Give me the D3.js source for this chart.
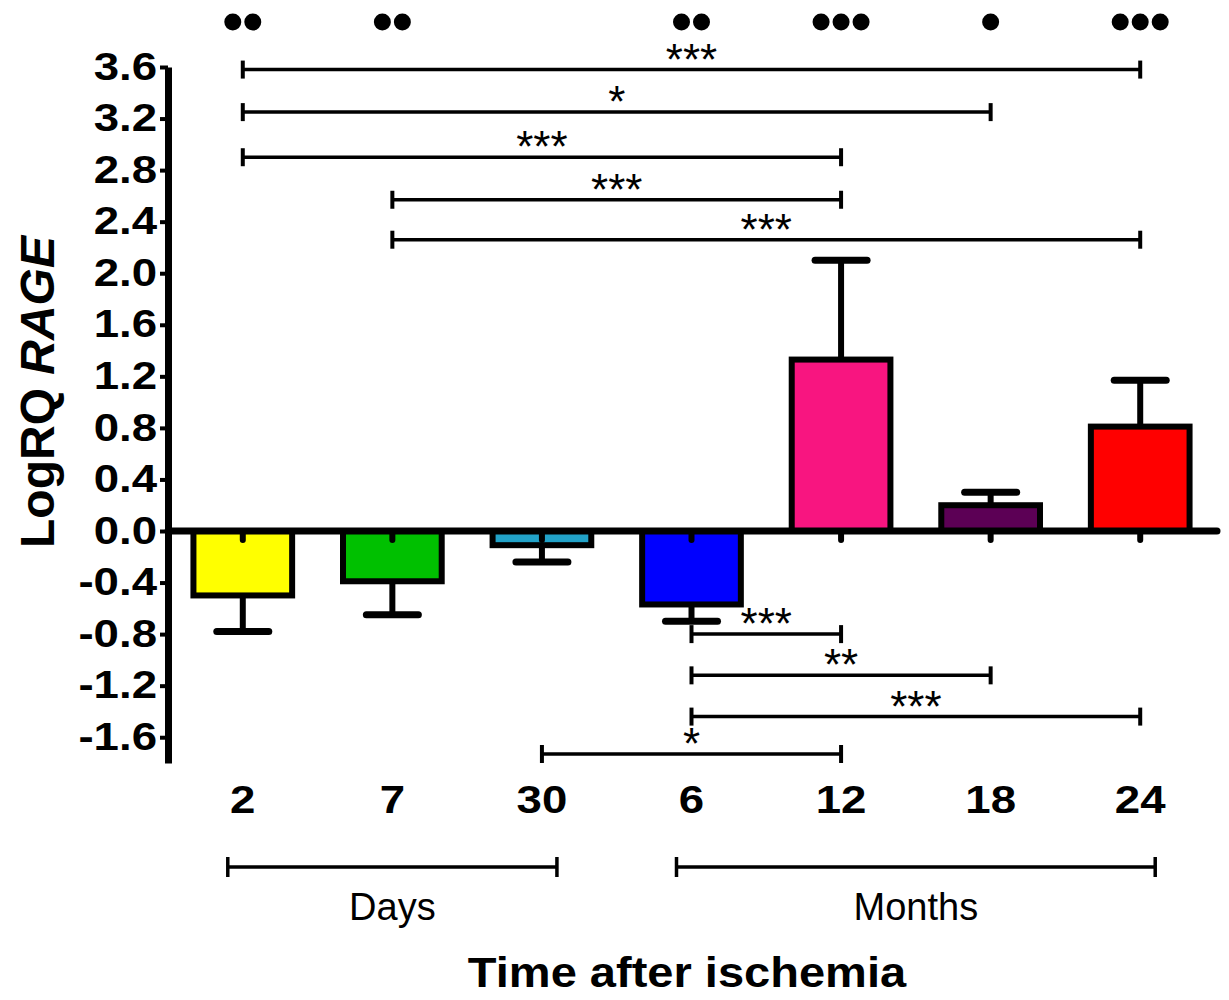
<!DOCTYPE html>
<html>
<head>
<meta charset="utf-8">
<script src="https://cdn.jsdelivr.net/npm/d3@7"></script>
<style>
  body { margin: 0; background: #fff; }
  text { font-family: "Liberation Sans", Arial, sans-serif; fill: #000; }
</style>
</head>
<body>
<div id="chart"></div>
<script>
// data
var categories = ["2", "7", "30", "6", "12", "18", "24"];
var means      = [-0.50, -0.39, -0.11, -0.57, 1.33, 0.20, 0.81];
var sems       = [0.28, 0.26, 0.13, 0.13, 0.77, 0.10, 0.36];
var colors     = ["#ffff00", "#00c000", "#22a2c8", "#0000ff", "#f81580", "#5c0055", "#ff0000"];
var dotCounts  = [2, 2, 0, 2, 3, 1, 3];
var yTicks     = [-1.6, -1.2, -0.8, -0.4, 0.0, 0.4, 0.8, 1.2, 1.6, 2.0, 2.4, 2.8, 3.2, 3.6];

// significance brackets: from category, to category, level (y units), label
var brackets = [
  {from: "2",  to: "24", level: 3.58,  label: "***"},
  {from: "2",  to: "18", level: 3.25,  label: "*"},
  {from: "2",  to: "12", level: 2.90,  label: "***"},
  {from: "7",  to: "12", level: 2.57,  label: "***"},
  {from: "7",  to: "24", level: 2.26,  label: "***"},
  {from: "6",  to: "12", level: -0.80, label: "***"},
  {from: "6",  to: "18", level: -1.12, label: "**"},
  {from: "6",  to: "24", level: -1.44, label: "***"},
  {from: "30", to: "12", level: -1.73, label: "*"}
];

var groups = [
  {from: "2", to: "30", label: "Days"},
  {from: "6", to: "24", label: "Months"}
];

var W = 1229, H = 1000;
var svg = d3.select("#chart").append("svg")
    .attr("width", W).attr("height", H);
svg.append("rect").attr("width", W).attr("height", H).attr("fill", "#fff");

var x = d3.scaleBand().domain(categories).range([168, 1215])
    .paddingInner(0.3).paddingOuter(0.15);
var y = d3.scaleLinear().domain([-1.8, 3.6]).range([763, 67]);
var cx = function(c){ return x(c) + x.bandwidth()/2; };

var stretch = 1.2;

var data = categories.map(function(c, i){
  return {cat: c, v: means[i], sem: sems[i], color: colors[i], dots: dotCounts[i]};
});

// error bars (drawn under the bars)
var err = svg.append("g");
data.forEach(function(d){
  var end = d.v >= 0 ? d.v + d.sem : d.v - d.sem;
  err.append("line")
    .attr("x1", cx(d.cat)).attr("x2", cx(d.cat))
    .attr("y1", y(d.v)).attr("y2", y(end))
    .attr("stroke", "#000").attr("stroke-width", 6);
  err.append("line")
    .attr("x1", cx(d.cat) - 26).attr("x2", cx(d.cat) + 26)
    .attr("y1", y(end)).attr("y2", y(end))
    .attr("stroke", "#000").attr("stroke-width", 7).attr("stroke-linecap", "round");
});

// bars
svg.append("g").selectAll("rect")
  .data(data).enter().append("rect")
  .attr("x", function(d){ return x(d.cat) + 3; })
  .attr("width", x.bandwidth() - 6)
  .attr("y", function(d){ return Math.min(y(d.v), y(0)); })
  .attr("height", function(d){ return Math.abs(y(d.v) - y(0)); })
  .attr("fill", function(d){ return d.color; })
  .attr("stroke", "#000").attr("stroke-width", 6);

// zero line
svg.append("line")
  .attr("x1", 168).attr("x2", 1217)
  .attr("y1", y(0)).attr("y2", y(0))
  .attr("stroke", "#000").attr("stroke-width", 7).attr("stroke-linecap", "round");

// little nubs below zero at each bar centre
svg.append("g").selectAll("line")
  .data(data).enter().append("line")
  .attr("x1", function(d){ return cx(d.cat); })
  .attr("x2", function(d){ return cx(d.cat); })
  .attr("y1", y(0)).attr("y2", y(0) + 9)
  .attr("stroke", "#000").attr("stroke-width", 6).attr("stroke-linecap", "round");

// y axis
var yAxis = svg.append("g")
  .attr("transform", "translate(168,0)")
  .call(d3.axisLeft(y).tickValues(yTicks).tickSize(8).tickSizeOuter(0)
    .tickFormat(function(d){ return d.toFixed(1); }));
yAxis.select(".domain").attr("stroke-width", 7);
yAxis.selectAll(".tick line").attr("stroke-width", 4);
yAxis.selectAll(".tick text")
  .attr("x", -11 / stretch)
  .attr("transform", "scale(" + stretch + ",1)")
  .style("font-size", "38px").style("font-weight", "bold");

// x tick labels
var xAxis = svg.append("g")
  .attr("transform", "translate(0,780)")
  .call(d3.axisBottom(x).tickSize(0).tickPadding(6));
xAxis.select(".domain").remove();
xAxis.selectAll(".tick text")
  .attr("transform", "scale(" + stretch + ",1)")
  .style("font-size", "38px").style("font-weight", "bold");

// significance brackets
var br = svg.append("g");
brackets.forEach(function(b){
  var x1 = cx(b.from), x2 = cx(b.to), yy = y(b.level);
  br.append("line").attr("x1", x1).attr("x2", x2).attr("y1", yy).attr("y2", yy)
    .attr("stroke", "#000").attr("stroke-width", 3.5);
  [x1, x2].forEach(function(xe){
    br.append("line").attr("x1", xe).attr("x2", xe).attr("y1", yy - 9).attr("y2", yy + 9)
      .attr("stroke", "#000").attr("stroke-width", 4);
  });
  br.append("text")
    .attr("transform", "translate(" + (x1 + x2)/2 + "," + (yy + 5) + ")")
    .attr("text-anchor", "middle")
    .style("font-size", "44px")
    .text(b.label);
});

// dots above bars
var dg = svg.append("g");
data.forEach(function(d){
  for (var k = 0; k < d.dots; k++) {
    dg.append("circle")
      .attr("cx", cx(d.cat) + (k - (d.dots - 1)/2) * 20)
      .attr("cy", 22).attr("r", 8.5).attr("fill", "#000");
  }
});

// Days / Months brackets
var gg = svg.append("g");
groups.forEach(function(g){
  var x1 = x(g.from) + x.bandwidth()/2 - 15, x2 = x(g.to) + x.bandwidth()/2 + 15, yy = 867;
  gg.append("line").attr("x1", x1).attr("x2", x2).attr("y1", yy).attr("y2", yy)
    .attr("stroke", "#000").attr("stroke-width", 3.5);
  [x1, x2].forEach(function(xe){
    gg.append("line").attr("x1", xe).attr("x2", xe).attr("y1", yy - 10).attr("y2", yy + 10)
      .attr("stroke", "#000").attr("stroke-width", 3.5);
  });
  gg.append("text")
    .attr("x", (x1 + x2)/2).attr("y", yy + 53)
    .attr("text-anchor", "middle")
    .style("font-size", "38px")
    .text(g.label);
});

// axis titles
svg.append("text")
  .attr("transform", "translate(687,987) scale(1.12,1)")
  .attr("text-anchor", "middle")
  .style("font-size", "42px").style("font-weight", "bold")
  .text("Time after ischemia");

var yl = svg.append("text")
  .attr("transform", "translate(54,392) rotate(-90)")
  .attr("text-anchor", "middle")
  .style("font-size", "48px").style("font-weight", "bold");
yl.append("tspan").text("LogRQ ");
yl.append("tspan").style("font-style", "italic").text("RAGE");
</script>
</body>
</html>
